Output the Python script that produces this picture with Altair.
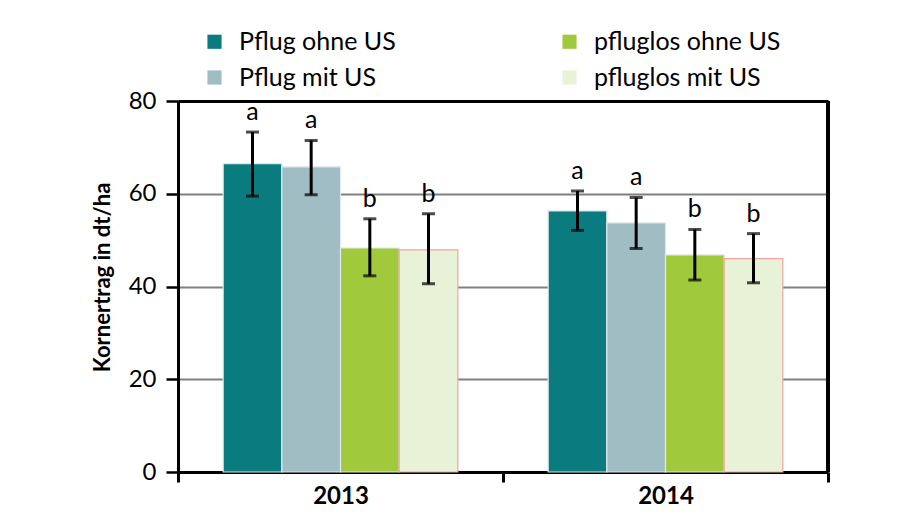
import altair as alt
import pandas as pd

years = ["2013", "2014"]
series = ["Pflug ohne US", "Pflug mit US", "pfluglos ohne US", "pfluglos mit US"]
colors = ["#0a7b7e", "#9fbdc3", "#a0ca3c", "#e8f2d6"]

mean_2013 = [66.5, 65.8, 48.3, 47.9]
lo_2013 = [59.5, 59.8, 42.3, 40.6]
hi_2013 = [73.3, 71.5, 54.6, 55.7]
let_2013 = ["a", "a", "b", "b"]

mean_2014 = [56.3, 53.7, 46.8, 46.0]
lo_2014 = [52.1, 48.2, 41.4, 40.8]
hi_2014 = [60.6, 59.2, 52.3, 51.4]
let_2014 = ["a", "a", "b", "b"]

rows = []
for y, m, lo, hi, le in [("2013", mean_2013, lo_2013, hi_2013, let_2013),
                         ("2014", mean_2014, lo_2014, hi_2014, let_2014)]:
    for i, s in enumerate(series):
        rows.append({"year": y, "series": s, "mean": m[i], "lo": lo[i], "hi": hi[i], "letter": le[i]})
df = pd.DataFrame(rows)

FONT = "Lato"

x_enc = alt.X("year:N", sort=years,
              scale=alt.Scale(paddingInner=0, paddingOuter=0),
              axis=alt.Axis(title=None, labelFont=FONT, labelFontSize=24, labelFontWeight="bold",
                            labelColor="black", labelAngle=0, domainColor="black", domainWidth=3,
                            tickColor="black", tickWidth=3, tickSize=10, tickBand="extent",
                            labelPadding=2, grid=False))
xo_enc = alt.XOffset("series:N", sort=series, scale=alt.Scale(paddingInner=0, paddingOuter=0.77))
y_scale = alt.Scale(domain=[0, 80], nice=False)

bars = alt.Chart(df).mark_bar(strokeWidth=1.2).encode(
    x=x_enc,
    xOffset=xo_enc,
    y=alt.Y("mean:Q", scale=y_scale,
            axis=alt.Axis(title="Kornertrag in dt/ha", values=[0, 20, 40, 60, 80],
                          titleFont=FONT, titleFontSize=22, titleFontWeight="bold", titleColor="black",
                          titleX=-76, titleY=176, titleAngle=-90, titleBaseline="middle",
                          labelFont=FONT, labelFontSize=24, labelColor="black", labelPadding=10,
                          domainColor="black", domainWidth=3, tickColor="black", tickWidth=2.5,
                          tickSize=12, grid=True,
                          gridColor=alt.condition("datum.value == 80", alt.value("black"), alt.value("#808080")),
                          gridWidth=alt.condition("datum.value == 80", alt.value(3), alt.value(2)))),
    color=alt.Color("series:N", scale=alt.Scale(domain=series, range=colors),
                    legend=alt.Legend(title=None, orient="none", legendX=24, legendY=-72,
                                      columns=2, columnPadding=131, rowPadding=10, gridAlign="all",
                                      symbolType="square", symbolSize=200, symbolStrokeWidth=0,
                                      labelFont=FONT, labelFontSize=25, labelColor="black",
                                      labelOffset=12, labelLimit=400)),
    stroke=alt.condition("datum.series == 'pfluglos mit US'", alt.value("#f4a3a3"), alt.value("#dfe8ea")),
)

err = alt.Chart(df).mark_rule(color="black", strokeWidth=3).encode(
    x=alt.X("year:N", sort=years), xOffset=xo_enc,
    y=alt.Y("lo:Q", scale=y_scale), y2="hi:Q")

cap_lo = alt.Chart(df).mark_tick(color="black", thickness=3, size=13).encode(
    x=alt.X("year:N", sort=years), xOffset=xo_enc, y=alt.Y("lo:Q", scale=y_scale))
cap_hi = alt.Chart(df).mark_tick(color="black", thickness=3, size=13).encode(
    x=alt.X("year:N", sort=years), xOffset=xo_enc, y=alt.Y("hi:Q", scale=y_scale))

letters = alt.Chart(df).mark_text(font=FONT, fontSize=25, color="black", baseline="middle", dy=-20).encode(
    x=alt.X("year:N", sort=years), xOffset=xo_enc, y=alt.Y("hi:Q", scale=y_scale), text="letter:N")

right_border = alt.Chart(df).mark_rule(color="black", strokeWidth=3).encode(
    x=alt.value("width"), y=alt.value(0), y2=alt.value("height"))

chart = alt.layer(bars, err, cap_lo, cap_hi, letters, right_border).properties(
    width=650, height=371,
    autosize=alt.AutoSizeParams(type="none"),
    padding={"left": 170, "top": 93, "right": 80, "bottom": 42},
).configure_view(fill="#e1e7e9", stroke="black", strokeWidth=3
).configure(background="white")

chart.save("out.html", embed_options={"renderer": "svg", "actions": False})
